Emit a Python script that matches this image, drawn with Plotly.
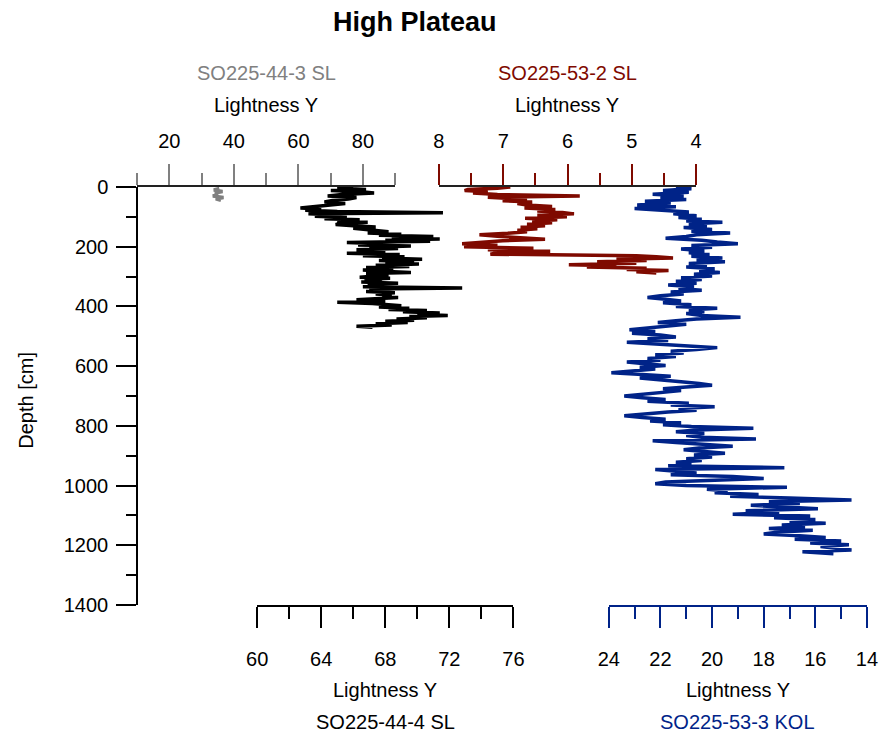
import plotly.graph_objects as go

# ---- SO225-44-3 SL (top grey axis) ----
gray_depth = [5, 10, 15, 20, 25, 30, 35, 40, 45]
gray_light = [35.5, 33.8, 36.5, 34.2, 35.0, 33.5, 36.8, 34.4, 36.0]

# ---- SO225-44-4 SL (bottom black axis) ----
black_depth = [0, 4, 8, 12, 16, 20, 25, 30, 35, 40, 45, 50, 55, 60, 65, 70, 74, 78, 82, 86,
               90, 94, 98, 102, 106, 110, 114, 118, 122, 126, 130, 134, 138, 142, 146, 150,
               154, 158, 162, 166, 170, 174, 178, 182, 186, 190, 194, 198, 202, 206, 210,
               214, 218, 222, 226, 230, 234, 238, 242, 246, 250, 254, 258, 262, 266, 270,
               274, 278, 282, 286, 290, 294, 298, 302, 306, 310, 314, 318, 322, 326, 330,
               334, 338, 342, 346, 350, 354, 358, 362, 366, 370, 374, 378, 382, 386, 390,
               394, 398, 402, 406, 410, 414, 418, 422, 426, 430, 434, 438, 442, 446, 450,
               454, 458, 462, 466, 470]
black_light = [66.0, 65.0, 66.8, 64.6, 66.5, 67.3, 65.3, 64.4, 66.2, 65.7, 64.7, 64.2, 65.5,
               64.5, 63.3, 62.7, 64.0, 63.0, 65.0, 71.6, 63.2, 64.8, 63.6, 65.6, 64.2, 66.4,
               65.0, 66.9, 65.2, 64.9, 66.0, 67.4, 66.0, 66.6, 67.3, 68.2, 66.9, 69.0, 67.6,
               71.0, 68.4, 71.4, 68.0, 70.8, 65.6, 67.8, 66.3, 69.6, 67.0, 68.8, 66.2, 68.0,
               67.2, 65.6, 68.9, 66.6, 69.2, 67.8, 70.3, 67.6, 69.8, 68.0, 70.1, 67.4, 69.5,
               66.8, 68.5, 66.6, 67.8, 69.6, 66.8, 68.2, 67.4, 66.4, 68.3, 66.7, 67.8, 66.5,
               68.8, 66.9, 67.9, 66.6, 72.8, 67.0, 68.2, 66.8, 68.6, 67.4, 68.4, 67.8, 68.8,
               67.5, 66.2, 68.0, 65.0, 67.2, 68.4, 69.0, 67.6, 69.5, 68.2, 70.6, 69.1, 71.4,
               70.0, 71.9, 69.5, 70.6, 68.7, 69.8, 68.0, 69.4, 67.4, 68.4, 66.2, 67.2]

# ---- SO225-53-2 SL (top red axis, reversed) ----
red_depth = [0, 4, 8, 12, 16, 20, 25, 30, 34, 38, 42, 46, 50, 55, 60, 65, 70, 75, 80, 85,
             90, 95, 100, 105, 110, 115, 120, 125, 130, 135, 140, 145, 150, 155, 160, 165,
             170, 175, 180, 185, 190, 195, 200, 205, 210, 215, 220, 225, 230, 234, 238, 242,
             246, 250, 255, 260, 264, 268, 272, 276, 280, 284, 288]
red_light = [6.89, 7.09, 7.55, 7.60, 7.24, 7.47, 7.09, 5.81, 7.24, 6.93, 6.63, 7.01, 6.55,
             6.78, 6.63, 6.24, 6.67, 6.19, 6.47, 6.08, 5.90, 6.47, 6.01, 6.66, 6.16, 6.55,
             6.24, 6.63, 6.35, 6.73, 6.47, 6.78, 6.63, 6.93, 7.37, 7.09, 6.78, 6.35, 7.01,
             7.40, 7.64, 7.09, 7.61, 6.53, 7.24, 6.27, 7.09, 7.20, 4.93, 4.62, 4.36, 5.24,
             4.77, 5.54, 4.93, 5.98, 5.24, 5.70, 4.77, 5.08, 4.43, 4.93, 4.62]

# ---- SO225-53-3 KOL (bottom blue axis, reversed) ----
blue_depth = [0, 6, 12, 18, 24, 30, 36, 42, 48, 54, 60, 66, 72, 78, 84, 90, 96, 102, 108,
              114, 118, 124, 130, 136, 142, 148, 154, 160, 166, 172, 178, 184, 190, 196, 202,
              208, 214, 220, 226, 232, 238, 244, 250, 256, 262, 268, 274, 280, 286, 292, 298,
              304, 310, 316, 322, 328, 334, 340, 346, 352, 358, 364, 370, 376, 382, 388, 394,
              400, 406, 412, 418, 424, 430, 436, 442, 448, 454, 460, 466, 472, 478, 484, 490,
              496, 502, 508, 514, 520, 526, 532, 538, 544, 550, 556, 562, 568, 574, 580, 586,
              592, 598, 604, 610, 616, 622, 628, 634, 640, 646, 652, 658, 664, 670, 676, 682,
              688, 694, 700, 706, 712, 718, 724, 730, 736, 742, 748, 754, 760, 766, 772, 778,
              784, 790, 796, 802, 808, 814, 820, 826, 832, 838, 844, 850, 856, 862, 868, 874,
              880, 886, 892, 898, 904, 910, 916, 922, 928, 934, 940, 946, 952, 958, 964, 970,
              976, 982, 988, 994, 1000, 1006, 1012, 1018, 1024, 1030, 1036, 1042, 1048, 1054,
              1060, 1066, 1072, 1078, 1084, 1090, 1096, 1102, 1108, 1114, 1120, 1126, 1132,
              1138, 1144, 1150, 1156, 1162, 1168, 1174, 1180, 1186, 1192, 1198, 1204, 1210,
              1216, 1222, 1228]
blue_light = [21.4, 20.8, 21.9, 20.9, 22.3, 21.1, 22.0, 21.0, 22.6, 21.6, 22.9, 21.4, 23.0,
              21.8, 20.9, 21.5, 20.6, 21.3, 20.4, 21.0, 19.6, 20.9, 20.2, 21.1, 20.0, 20.8,
              19.3, 20.6, 21.0, 21.8, 20.4, 19.8, 19.0, 20.8, 20.0, 21.2, 20.3, 20.9, 20.1,
              20.8, 19.6, 20.6, 19.5, 20.9, 20.2, 21.0, 19.9, 20.5, 19.7, 20.7, 20.0, 21.2,
              20.4, 21.4, 20.6, 21.7, 20.7, 21.3, 20.4, 21.6, 21.1, 22.0, 22.5, 21.8, 21.2,
              21.9, 20.8, 21.4, 19.8, 20.9, 20.3, 21.0, 20.4, 18.9, 20.6, 21.4, 22.1, 21.0,
              21.8, 22.6, 23.2, 22.2, 23.1, 22.0, 21.4, 22.5, 21.7, 23.3, 22.1, 20.9, 19.8,
              20.6, 21.6, 21.1, 22.2, 21.4, 22.5, 22.0, 23.3, 22.6, 21.8, 22.8, 22.2, 23.1,
              23.9, 22.7, 21.6, 22.8, 21.8, 21.2, 20.5, 20.0, 21.0, 21.9, 21.2, 22.0, 22.6,
              23.4, 22.7, 21.8, 22.5, 20.9, 21.6, 19.9, 21.3, 20.6, 21.7, 22.4, 23.4, 22.7,
              21.8, 22.4, 21.2, 21.9, 20.8, 18.4, 20.6, 21.4, 20.3, 21.0, 20.4, 18.3, 22.3,
              21.4, 20.0, 19.2, 20.5, 21.1, 20.3, 19.5, 20.7, 20.0, 21.0, 20.4, 21.4, 20.8,
              21.7, 17.2, 22.2, 21.4, 20.6, 21.6, 19.2, 18.0, 20.5, 21.8, 22.2, 21.0, 17.1,
              20.2, 19.4, 19.9, 18.2, 19.3, 17.0, 14.6, 17.8, 16.6, 18.5, 17.2, 15.9, 18.7,
              17.4, 19.2, 16.2, 17.6, 16.0, 17.0, 15.6, 17.3, 16.4, 17.8, 16.1, 17.5, 18.0,
              16.6, 15.6, 16.8, 15.0, 16.2, 14.7, 15.8, 15.2, 14.6, 16.5, 15.3]

GRAY = "#808080"
RED = "#7f0a00"
BLUE = "#002388"
BLACK = "#000000"
FONT = "Liberation Sans, Arial, sans-serif"

W, H = 889, 743
ML, MR, MT, MB = 137, 11, 187, 138
PW = 735
PH = H - MT - MB


def px(x):
    return (x - ML) / PW


def py(y):
    return (H - MB - y) / PH


fig = go.Figure()
fig.add_trace(go.Scatter(x=black_light, y=black_depth, xaxis="x", yaxis="y", mode="lines",
                         line=dict(color=BLACK, width=3.5), name="SO225-44-4 SL"))
fig.add_trace(go.Scatter(x=blue_light, y=blue_depth, xaxis="x2", yaxis="y", mode="lines",
                         line=dict(color=BLUE, width=3.5), name="SO225-53-3 KOL"))
fig.add_trace(go.Scatter(x=gray_light, y=gray_depth, xaxis="x3", yaxis="y", mode="lines",
                         line=dict(color=GRAY, width=3.5), name="SO225-44-3 SL"))
fig.add_trace(go.Scatter(x=red_light, y=red_depth, xaxis="x4", yaxis="y", mode="lines",
                         line=dict(color=RED, width=3.5), name="SO225-53-2 SL"))


def xaxis(domain, rng, dtick, tick0, mdtick, side, color, linecolor, standoff):
    return dict(domain=domain, range=rng, side=side, anchor="y", showgrid=False,
                zeroline=False, showline=True, linecolor=linecolor, linewidth=1.5,
                ticks="outside", ticklen=21, tickwidth=1.5, tickcolor=color,
                dtick=dtick, tick0=tick0, ticklabelstandoff=standoff,
                tickfont=dict(family=FONT, size=20, color=BLACK),
                minor=dict(ticks="outside", ticklen=12, tickwidth=1.5, tickcolor=color,
                           dtick=mdtick, tick0=tick0, showgrid=False))


fig.update_layout(
    width=W, height=H,
    margin=dict(l=ML, r=MR, t=MT, b=MB),
    # transparent plot areas so overlapping subplots do not hide each other's lines
    plot_bgcolor="rgba(0,0,0,0)", paper_bgcolor="white",
    showlegend=False,
    font=dict(family=FONT, size=20, color=BLACK),
    xaxis=xaxis([px(258), px(516)], [60, 76], 4, 60, 2, "bottom", BLACK, BLACK, 14),
    xaxis2=xaxis([px(612), px(872)], [24, 14], 2, 14, 1, "bottom", BLUE, BLUE, 14),
    xaxis3=xaxis([px(137), px(397)], [10, 90], 20, 0, 10, "top", GRAY, "#222222", 8),
    xaxis4=xaxis([px(441), px(700)], [8, 4], 1, 4, 0.5, "top", RED, "#222222", 8),
    yaxis=dict(domain=[0, 1], range=[1400, 0], anchor="free", position=0,
               showgrid=False, zeroline=False, showline=True, linecolor=BLACK,
               linewidth=1.5, ticks="outside", ticklen=20, tickwidth=1.5,
               tickcolor=BLACK, dtick=200, tick0=0, ticklabelstandoff=4,
               tickfont=dict(family=FONT, size=20, color=BLACK),
               minor=dict(ticks="outside", ticklen=10, tickwidth=1.5,
                          tickcolor=BLACK, dtick=100, showgrid=False)),
)

labels = [
    ("<b>High Plateau</b>", 417, 22, BLACK, 27, 0),
    ("SO225-44-3 SL", 267, 73, GRAY, 20, 0),
    ("Lightness Y", 267, 105, BLACK, 20, 0),
    ("SO225-53-2 SL", 570, 73, RED, 20, 0),
    ("Lightness Y", 570, 105, BLACK, 20, 0),
    ("Lightness Y", 387, 690, BLACK, 20, 0),
    ("SO225-44-4 SL", 387, 722, BLACK, 20, 0),
    ("Lightness Y", 742, 690, BLACK, 20, 0),
    ("SO225-53-3 KOL", 742, 722, BLUE, 20, 0),
    ("Depth [cm]", 25, 400, BLACK, 20, -90),
]
for text, x, y, color, size, angle in labels:
    fig.add_annotation(text=text, x=px(x), y=py(y), xref="paper", yref="paper",
                       xanchor="center", yanchor="middle", showarrow=False,
                       textangle=angle, font=dict(family=FONT, size=size, color=color))

fig.write_html("out.html")
